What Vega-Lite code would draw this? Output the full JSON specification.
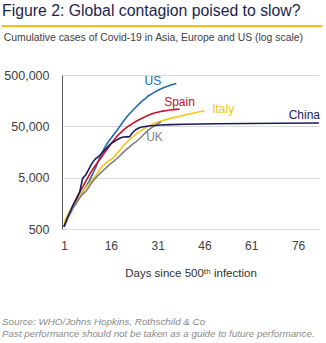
{
  "$schema": "https://vega.github.io/schema/vega-lite/v6.json",
  "background": "white",
  "padding": {"left": 2, "top": 2, "right": 2, "bottom": 2},
  "title": {"text": "Figure 2: Global contagion poised to slow?", "subtitle": "━━━━━━━━━━━━━━━━━━━━━━━━━━━━━━━━━━━━━━", "anchor": "start", "frame": "bounds", "font": "Liberation Sans", "fontSize": 15.8, "fontWeight": "normal", "color": "#1b1f4e", "subtitleFont": "DejaVu Sans Mono", "subtitleFontSize": 14, "subtitleColor": "#F2C01E", "subtitlePadding": 0, "offset": -2},
  "vconcat": [
    {
      "width": 257,
      "height": 154,
      "title": {"text": "Cumulative cases of Covid-19 in Asia, Europe and US (log scale)", "anchor": "start", "frame": "bounds", "font": "Liberation Sans", "fontSize": 10.4, "fontWeight": "normal", "color": "#404040", "offset": 26},
      "encoding": {
        "x": {"field": "day", "type": "quantitative", "scale": {"domain": [0.36, 82.7], "nice": false, "zero": false},
          "axis": {"values": [1, 16, 31, 46, 61, 76], "title": "Days since 500ᵗʰ infection", "domain": false, "ticks": false, "grid": false, "labelPadding": 11, "titlePadding": 16, "labelFont": "Liberation Sans", "labelFontSize": 12, "labelColor": "#404040", "titleFont": "Liberation Sans", "titleFontSize": 11.5, "titleFontWeight": "normal", "titleColor": "#303030"}},
        "y": {"field": "cases", "type": "quantitative", "scale": {"type": "log", "domain": [500, 500000], "nice": false},
          "axis": {"values": [500, 5000, 50000, 500000], "format": ",", "title": null, "domain": true, "domainColor": "#595959", "domainWidth": 1, "ticks": false, "grid": true, "gridColor": "#d9d9d9", "labelPadding": 13, "labelFont": "Liberation Sans", "labelFontSize": 12.5, "labelColor": "#404040"}},
        "color": {"field": "country", "type": "nominal", "legend": null,
          "scale": {"domain": ["US", "Spain", "Italy", "China", "UK"], "range": ["#2469a8", "#c8102e", "#f5c518", "#1c1c5a", "#7f7f7f"]}}
      },
      "layer": [
        {
          "data": {"name": "cases"},
          "mark": {"type": "line", "strokeWidth": 1.6, "clip": true},
          "encoding": {"order": {"field": "day", "type": "quantitative"}, "detail": {"field": "country"}}
        },
        {
          "data": {"name": "labels"},
          "mark": {"type": "text", "font": "Liberation Sans", "fontSize": 12, "align": "center", "baseline": "middle"},
          "encoding": {"text": {"field": "country"}}
        }
      ]
    },
    {
      "width": 257,
      "height": 1,
      "view": {"stroke": null},
      "title": {"text": ["Source: WHO/Johns Hopkins, Rothschild & Co", "Past performance should not be taken as a guide to future performance."], "anchor": "start", "frame": "group", "dx": -60, "font": "Liberation Sans", "fontSize": 9.8, "fontStyle": "italic", "fontWeight": "normal", "color": "#8a8a8a", "lineHeight": 12, "offset": 0},
      "data": {"values": [{}]},
      "mark": {"type": "text"},
      "encoding": {"text": {"value": ""}}
    }
  ],
  "spacing": 37,
  "datasets": {
    "cases": [
      {"country": "US", "day": 1, "cases": 560}, {"country": "US", "day": 2, "cases": 800}, {"country": "US", "day": 3, "cases": 1100}, {"country": "US", "day": 4, "cases": 1400}, {"country": "US", "day": 5, "cases": 1700}, {"country": "US", "day": 6, "cases": 2100}, {"country": "US", "day": 7, "cases": 2700}, {"country": "US", "day": 8, "cases": 3300}, {"country": "US", "day": 9, "cases": 4200}, {"country": "US", "day": 10, "cases": 5600}, {"country": "US", "day": 11, "cases": 7500}, {"country": "US", "day": 12, "cases": 10500}, {"country": "US", "day": 13, "cases": 14500}, {"country": "US", "day": 14, "cases": 19000}, {"country": "US", "day": 15, "cases": 24000}, {"country": "US", "day": 16, "cases": 29000}, {"country": "US", "day": 17, "cases": 35000}, {"country": "US", "day": 18, "cases": 42000}, {"country": "US", "day": 19, "cases": 51000}, {"country": "US", "day": 20, "cases": 62000}, {"country": "US", "day": 21, "cases": 75000}, {"country": "US", "day": 22, "cases": 88000}, {"country": "US", "day": 23, "cases": 102000}, {"country": "US", "day": 24, "cases": 118000}, {"country": "US", "day": 25, "cases": 135000}, {"country": "US", "day": 26, "cases": 155000}, {"country": "US", "day": 27, "cases": 172000}, {"country": "US", "day": 28, "cases": 195000}, {"country": "US", "day": 29, "cases": 212000}, {"country": "US", "day": 30, "cases": 232000}, {"country": "US", "day": 31, "cases": 250000}, {"country": "US", "day": 32, "cases": 268000}, {"country": "US", "day": 33, "cases": 285000}, {"country": "US", "day": 34, "cases": 300000}, {"country": "US", "day": 35, "cases": 315000}, {"country": "US", "day": 36, "cases": 330000}, {"country": "US", "day": 37, "cases": 342000},
      {"country": "Spain", "day": 1, "cases": 560}, {"country": "Spain", "day": 2, "cases": 820}, {"country": "Spain", "day": 3, "cases": 1100}, {"country": "Spain", "day": 4, "cases": 1500}, {"country": "Spain", "day": 5, "cases": 2000}, {"country": "Spain", "day": 6, "cases": 2600}, {"country": "Spain", "day": 7, "cases": 3300}, {"country": "Spain", "day": 8, "cases": 4300}, {"country": "Spain", "day": 9, "cases": 5500}, {"country": "Spain", "day": 10, "cases": 7000}, {"country": "Spain", "day": 11, "cases": 8500}, {"country": "Spain", "day": 12, "cases": 10500}, {"country": "Spain", "day": 13, "cases": 12500}, {"country": "Spain", "day": 14, "cases": 15500}, {"country": "Spain", "day": 15, "cases": 18500}, {"country": "Spain", "day": 16, "cases": 22500}, {"country": "Spain", "day": 17, "cases": 27000}, {"country": "Spain", "day": 18, "cases": 32000}, {"country": "Spain", "day": 19, "cases": 37000}, {"country": "Spain", "day": 20, "cases": 42000}, {"country": "Spain", "day": 21, "cases": 47000}, {"country": "Spain", "day": 22, "cases": 52000}, {"country": "Spain", "day": 23, "cases": 57000}, {"country": "Spain", "day": 24, "cases": 62000}, {"country": "Spain", "day": 25, "cases": 67000}, {"country": "Spain", "day": 26, "cases": 72000}, {"country": "Spain", "day": 27, "cases": 77000}, {"country": "Spain", "day": 28, "cases": 82000}, {"country": "Spain", "day": 29, "cases": 87000}, {"country": "Spain", "day": 30, "cases": 91000}, {"country": "Spain", "day": 31, "cases": 94000}, {"country": "Spain", "day": 32, "cases": 97000}, {"country": "Spain", "day": 33, "cases": 100000}, {"country": "Spain", "day": 34, "cases": 102000}, {"country": "Spain", "day": 35, "cases": 104000}, {"country": "Spain", "day": 36, "cases": 105500}, {"country": "Spain", "day": 37, "cases": 107000}, {"country": "Spain", "day": 38, "cases": 108500},
      {"country": "Italy", "day": 1, "cases": 650}, {"country": "Italy", "day": 2, "cases": 900}, {"country": "Italy", "day": 3, "cases": 1150}, {"country": "Italy", "day": 4, "cases": 1400}, {"country": "Italy", "day": 5, "cases": 1750}, {"country": "Italy", "day": 6, "cases": 2200}, {"country": "Italy", "day": 7, "cases": 2700}, {"country": "Italy", "day": 8, "cases": 3200}, {"country": "Italy", "day": 9, "cases": 3800}, {"country": "Italy", "day": 10, "cases": 4500}, {"country": "Italy", "day": 11, "cases": 5300}, {"country": "Italy", "day": 12, "cases": 6500}, {"country": "Italy", "day": 13, "cases": 8000}, {"country": "Italy", "day": 14, "cases": 9200}, {"country": "Italy", "day": 15, "cases": 10300}, {"country": "Italy", "day": 16, "cases": 11300}, {"country": "Italy", "day": 17, "cases": 12500}, {"country": "Italy", "day": 18, "cases": 15000}, {"country": "Italy", "day": 19, "cases": 17500}, {"country": "Italy", "day": 20, "cases": 21000}, {"country": "Italy", "day": 21, "cases": 24000}, {"country": "Italy", "day": 22, "cases": 27500}, {"country": "Italy", "day": 23, "cases": 31000}, {"country": "Italy", "day": 24, "cases": 35000}, {"country": "Italy", "day": 25, "cases": 39000}, {"country": "Italy", "day": 26, "cases": 42500}, {"country": "Italy", "day": 27, "cases": 46500}, {"country": "Italy", "day": 28, "cases": 50000}, {"country": "Italy", "day": 29, "cases": 54000}, {"country": "Italy", "day": 30, "cases": 57500}, {"country": "Italy", "day": 31, "cases": 60000}, {"country": "Italy", "day": 32, "cases": 63000}, {"country": "Italy", "day": 33, "cases": 66000}, {"country": "Italy", "day": 34, "cases": 69000}, {"country": "Italy", "day": 35, "cases": 71500}, {"country": "Italy", "day": 36, "cases": 74000}, {"country": "Italy", "day": 37, "cases": 76000}, {"country": "Italy", "day": 38, "cases": 78000}, {"country": "Italy", "day": 39, "cases": 81000}, {"country": "Italy", "day": 40, "cases": 84000}, {"country": "Italy", "day": 41, "cases": 87000}, {"country": "Italy", "day": 42, "cases": 89500}, {"country": "Italy", "day": 43, "cases": 92000}, {"country": "Italy", "day": 44, "cases": 95000}, {"country": "Italy", "day": 45, "cases": 97500}, {"country": "Italy", "day": 46, "cases": 100000},
      {"country": "UK", "day": 1, "cases": 560}, {"country": "UK", "day": 2, "cases": 750}, {"country": "UK", "day": 3, "cases": 1000}, {"country": "UK", "day": 4, "cases": 1300}, {"country": "UK", "day": 5, "cases": 1600}, {"country": "UK", "day": 6, "cases": 2000}, {"country": "UK", "day": 7, "cases": 2400}, {"country": "UK", "day": 8, "cases": 2700}, {"country": "UK", "day": 9, "cases": 3300}, {"country": "UK", "day": 10, "cases": 4100}, {"country": "UK", "day": 11, "cases": 4800}, {"country": "UK", "day": 12, "cases": 5600}, {"country": "UK", "day": 13, "cases": 6400}, {"country": "UK", "day": 14, "cases": 7300}, {"country": "UK", "day": 15, "cases": 8300}, {"country": "UK", "day": 16, "cases": 9500}, {"country": "UK", "day": 17, "cases": 10500}, {"country": "UK", "day": 18, "cases": 11800}, {"country": "UK", "day": 19, "cases": 13500}, {"country": "UK", "day": 20, "cases": 15500}, {"country": "UK", "day": 21, "cases": 17800}, {"country": "UK", "day": 22, "cases": 20000}, {"country": "UK", "day": 23, "cases": 22500}, {"country": "UK", "day": 24, "cases": 25000}, {"country": "UK", "day": 25, "cases": 28000}, {"country": "UK", "day": 26, "cases": 32000}, {"country": "UK", "day": 27, "cases": 37000}, {"country": "UK", "day": 28, "cases": 42000}, {"country": "UK", "day": 29, "cases": 46500}, {"country": "UK", "day": 30, "cases": 51000}, {"country": "UK", "day": 31, "cases": 56000}, {"country": "UK", "day": 32, "cases": 61000},
      {"country": "China", "day": 1, "cases": 550}, {"country": "China", "day": 2, "cases": 800}, {"country": "China", "day": 3, "cases": 1100}, {"country": "China", "day": 4, "cases": 1500}, {"country": "China", "day": 5, "cases": 1900}, {"country": "China", "day": 6, "cases": 2600}, {"country": "China", "day": 7, "cases": 4900}, {"country": "China", "day": 8, "cases": 5700}, {"country": "China", "day": 9, "cases": 7400}, {"country": "China", "day": 10, "cases": 9600}, {"country": "China", "day": 11, "cases": 11500}, {"country": "China", "day": 12, "cases": 12800}, {"country": "China", "day": 13, "cases": 14800}, {"country": "China", "day": 14, "cases": 17000}, {"country": "China", "day": 15, "cases": 20000}, {"country": "China", "day": 16, "cases": 23000}, {"country": "China", "day": 17, "cases": 25000}, {"country": "China", "day": 18, "cases": 27500}, {"country": "China", "day": 19, "cases": 29500}, {"country": "China", "day": 20, "cases": 31000}, {"country": "China", "day": 21, "cases": 31200}, {"country": "China", "day": 22, "cases": 31500}, {"country": "China", "day": 23, "cases": 38000}, {"country": "China", "day": 24, "cases": 43000}, {"country": "China", "day": 25, "cases": 46500}, {"country": "China", "day": 26, "cases": 48500}, {"country": "China", "day": 27, "cases": 49800}, {"country": "China", "day": 28, "cases": 50800}, {"country": "China", "day": 30, "cases": 52000}, {"country": "China", "day": 32, "cases": 53000}, {"country": "China", "day": 35, "cases": 54000}, {"country": "China", "day": 40, "cases": 55000}, {"country": "China", "day": 50, "cases": 56000}, {"country": "China", "day": 60, "cases": 56800}, {"country": "China", "day": 70, "cases": 57500}, {"country": "China", "day": 83, "cases": 58000}
    ],
    "labels": [
      {"country": "US", "day": 29.5, "cases": 384000},
      {"country": "Spain", "day": 38, "cases": 150000},
      {"country": "Italy", "day": 52, "cases": 109000},
      {"country": "China", "day": 78, "cases": 83000},
      {"country": "UK", "day": 30, "cases": 31000}
    ]
  },
  "config": {"view": {"stroke": null}}
}
